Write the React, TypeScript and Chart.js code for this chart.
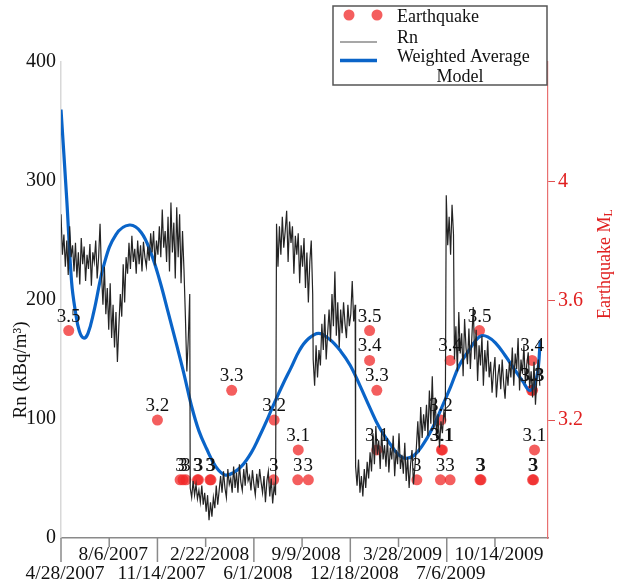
import React, { useEffect, useRef } from 'react';
import { Chart, registerables } from 'chart.js';

Chart.register(...registerables);

// ---- Axis ticks ----
const xTickDays = [0, 100, 200, 300, 400, 500, 600, 700, 800, 900];
const xTickLabels = ['4/28/2007', '8/6/2007', '11/14/2007', '2/22/2008', '6/1/2008', '9/9/2008', '12/18/2008', '3/28/2009', '7/6/2009', '10/14/2009'];
const rnTicks = [0, 100, 200, 300, 400];
const mlTicks = [3.2, 3.6, 4];

// ---- Rn series (kBq/m3), sampled every 3 days, in segments (days since 4/28/2007) ----
const rnStep = 3;
const rnSegStarts = [0, 268, 447, 523, 611, 799, 816];
const rnSegA = [
  272, 238, 255,
  228, 250, 221, 262, 236, 246, 224,
  248, 219, 240, 213, 252, 230, 245, 216, 238,
  226, 247, 212, 240, 232, 250, 218, 236, 264,
  222, 196, 228, 188, 210,
  175, 214, 168, 196, 160,
  190, 148, 178,
  205, 186, 230, 198, 236, 222,
  248, 226, 254, 232, 243, 222, 250,
  230, 246, 224, 249, 236, 228, 245,
  233, 256, 240, 258, 229, 250, 238,
  262, 236, 276, 244, 258, 232, 270,
  224, 282, 240, 265, 218, 278, 236,
  272, 214, 258, 226,
  186, 140, 168, 205,
];
const rnSegB = [
  42, 34, 48, 36, 45, 33, 40,
  30, 44, 28, 38,
  22, 36, 15, 30, 18, 34, 25,
  44, 28, 40,
  52, 38, 56, 42, 34, 58, 45, 50, 38,
  60, 42, 55, 38, 62, 47, 40, 58, 44, 63, 48, 52,
  40, 57, 45, 36, 54, 42, 58, 47,
  38, 52, 30, 48, 56, 35, 50, 29, 44, 36,
];
const rnSegC = [
  264, 228, 262, 238, 270, 244,
  258, 275, 232, 266, 248, 262, 222,
  254, 238, 256, 214, 246, 228, 252,
  210, 240, 198, 232, 250, 205,
];
const rnSegD = [
  150, 128, 162, 135, 158,
  145, 180, 158, 188, 150, 172, 192,
  165, 205, 178, 224, 170, 198, 160,
  192, 172, 198, 180, 168, 196, 178,
  188, 216, 182, 196,
];
const rnSegE = [
  60, 44, 66, 38, 52, 35, 58, 42, 64, 50,
  72, 56, 88, 62, 94, 70, 82, 58, 90, 66, 78,
  60, 84, 55, 76, 66, 86, 52, 74, 62, 88, 58, 70, 54, 80,
  48, 68, 42, 62, 74, 45, 60,
  76, 98, 72, 110, 84, 104, 90,
  112, 86, 124, 96, 136, 92, 118,
  84, 104, 76, 98, 88, 106, 100,
];
const rnSegF = [288, 246, 270, 238, 280, 255];
const rnSegG = [
  150, 178, 140, 190, 155, 172, 136, 184, 160, 146, 176,
  142, 168, 194, 150, 175, 132, 162, 145, 170, 128, 158, 140, 166, 135,
  148, 122, 140, 152, 118, 136, 146, 125, 150, 130, 117, 142, 128, 148,
  135, 160, 128, 155, 142, 168, 124, 150, 138, 162, 130, 146, 156, 126,
  140, 118, 148, 112, 135, 150, 128,
];
const rnSegments = [rnSegA, rnSegB, rnSegC, rnSegD, rnSegE, rnSegF, rnSegG];

// ---- Weighted average model ----
const modelDays = [0, 12, 22, 30, 38, 47, 56, 68, 90, 114, 142, 166, 187, 205, 222, 240, 255, 270, 286, 302, 321, 340, 358, 376, 395, 410, 426, 443, 460, 477, 495, 512, 534, 557, 580, 600, 620, 640, 660, 686, 700, 713, 731, 750, 770, 790, 808, 826, 845, 860, 872, 885, 901, 920, 940, 957, 973, 987, 994];
const modelValues = [360, 284, 215, 190, 174, 168, 172, 190, 231, 255, 263, 257, 239, 216, 190, 162, 138, 112, 90, 75, 60, 53, 55, 61, 72, 84, 98, 114, 129, 143, 158, 167, 172, 167, 157, 145, 128, 110, 93, 77, 70, 67, 69, 78, 92, 110, 127, 145, 157, 166, 170, 169, 164, 154, 142, 132, 124, 136, 166];

// ---- Earthquakes (day, local magnitude) ----
const eqDays = [16, 200, 247, 253, 259, 283, 285, 309, 311, 354, 442, 441, 492, 491, 513, 640, 640, 655, 655, 738, 788, 789, 791, 787, 807, 807, 868, 869, 871, 977, 976, 978, 982, 978, 980];
const eqMags = [3.5, 3.2, 3, 3, 3, 3, 3, 3, 3, 3.3, 3.2, 3, 3.1, 3, 3, 3.5, 3.4, 3.3, 3.1, 3, 3.2, 3.1, 3.1, 3, 3.4, 3, 3.5, 3, 3, 3.4, 3.3, 3.3, 3.1, 3, 3];

const FONT = "'Liberation Serif', 'Times New Roman', serif";
const RED_PT = 'rgba(240, 40, 40, 0.75)';
const BLUE = '#0a64c8';

const eqLabel = (m: number) => (m === 3 ? '3' : m.toFixed(1));

const overlayPlugin = {
  id: 'overlay',
  afterDatasetsDraw(chart: any) {
    const ctx = chart.ctx;
    const meta = chart.getDatasetMeta(2);
    ctx.save();
    ctx.font = `19px ${FONT}`;
    ctx.fillStyle = '#111';
    ctx.textAlign = 'center';
    ctx.textBaseline = 'alphabetic';
    meta.data.forEach((el: any, i: number) => {
      ctx.fillText(eqLabel(eqMags[i]), el.x, el.y - 9);
    });
    ctx.restore();
  },
  afterDraw(chart: any) {
    const ctx = chart.ctx;
    const xs = chart.scales.x;
    const bottom = chart.chartArea.bottom;
    ctx.save();
    // x tick marks (alternating lengths)
    ctx.strokeStyle = '#8a8a8a';
    ctx.lineWidth = 1.5;
    xTickDays.forEach((d, k) => {
      const px = xs.getPixelForValue(d);
      ctx.beginPath();
      ctx.moveTo(px, bottom);
      ctx.lineTo(px, bottom + (k % 2 === 0 ? 24 : 9));
      ctx.stroke();
    });

    // left title
    ctx.save();
    ctx.translate(21, 370);
    ctx.rotate(-Math.PI / 2);
    ctx.font = `19px ${FONT}`;
    ctx.fillStyle = '#111';
    ctx.textAlign = 'center';
    ctx.textBaseline = 'middle';
    ctx.fillText('Rn (kBq/m³)', 0, 0);
    ctx.restore();

    // right title with subscript
    ctx.save();
    ctx.translate(605, 264);
    ctx.rotate(-Math.PI / 2);
    ctx.fillStyle = '#e02020';
    ctx.textBaseline = 'middle';
    ctx.textAlign = 'left';
    ctx.font = `18px ${FONT}`;
    const w1 = ctx.measureText('Earthquake M').width;
    ctx.font = `12px ${FONT}`;
    const w2 = ctx.measureText('L').width;
    const sx = -(w1 + w2) / 2;
    ctx.font = `18px ${FONT}`;
    ctx.fillText('Earthquake M', sx, 0);
    ctx.font = `12px ${FONT}`;
    ctx.fillText('L', sx + w1, 4);
    ctx.restore();

    // legend
    ctx.fillStyle = '#ffffff';
    ctx.fillRect(333, 6, 214, 79);
    ctx.strokeStyle = '#555';
    ctx.lineWidth = 1.5;
    ctx.strokeRect(333, 6, 214, 79);
    ctx.fillStyle = RED_PT;
    [349, 377].forEach((cx) => {
      ctx.beginPath();
      ctx.arc(cx, 15, 5.5, 0, Math.PI * 2);
      ctx.fill();
    });
    ctx.strokeStyle = '#8a8a8a';
    ctx.lineWidth = 1.5;
    ctx.beginPath();
    ctx.moveTo(340, 42);
    ctx.lineTo(377, 42);
    ctx.stroke();
    ctx.strokeStyle = BLUE;
    ctx.lineWidth = 3.5;
    ctx.beginPath();
    ctx.moveTo(340, 60.5);
    ctx.lineTo(377, 60.5);
    ctx.stroke();
    ctx.fillStyle = '#111';
    ctx.font = `18px ${FONT}`;
    ctx.textAlign = 'left';
    ctx.textBaseline = 'alphabetic';
    ctx.fillText('Earthquake', 397, 21.5);
    ctx.fillText('Rn', 397, 43);
    ctx.fillText('Weighted Average', 397, 61.5);
    ctx.textAlign = 'center';
    ctx.fillText('Model', 460, 81.5);
    ctx.restore();
  },
};

export default function App() {
  const ref = useRef<HTMLCanvasElement | null>(null);
  useEffect(() => {
    if (!ref.current) return;
    const rnData: { x: number; y: number }[] = [];
    rnSegments.forEach((seg, s) => {
      seg.forEach((v, i) => rnData.push({ x: rnSegStarts[s] + i * rnStep, y: v }));
    });
    const modelData = modelDays.map((d, i) => ({ x: d, y: modelValues[i] }));
    const eqData = eqDays.map((d, i) => ({ x: d, y: eqMags[i] }));

    const chart = new Chart(ref.current, {
      type: 'line',
      data: {
        datasets: [
          {
            label: 'Rn',
            data: rnData,
            borderColor: '#242424',
            borderWidth: 1.2,
            pointRadius: 0,
            tension: 0,
            yAxisID: 'y',
          },
          {
            label: 'Weighted Average Model',
            data: modelData,
            borderColor: BLUE,
            borderWidth: 3.2,
            pointRadius: 0,
            tension: 0.4,
            yAxisID: 'y',
          },
          {
            label: 'Earthquake',
            data: eqData,
            showLine: false,
            pointRadius: 5.5,
            pointBackgroundColor: RED_PT,
            pointBorderWidth: 0,
            borderColor: 'transparent',
            yAxisID: 'y1',
          },
        ],
      },
      options: {
        animation: false,
        responsive: false,
        devicePixelRatio: 1,
        layout: { padding: { top: 62, left: 0, right: 0, bottom: 0 } },
        plugins: { legend: { display: false }, tooltip: { enabled: false } },
        scales: {
          x: {
            type: 'linear',
            position: 'bottom',
            min: 0,
            max: 1010,
            afterBuildTicks: (s: any) => {
              s.ticks = xTickDays.map((v) => ({ value: v }));
            },
            afterFit: (s: any) => {
              s.height = 47;
            },
            grid: { display: true, drawOnChartArea: false, drawTicks: false },
            border: { display: true, color: '#8a8a8a', width: 1.5 },
            ticks: {
              autoSkip: false,
              maxRotation: 0,
              padding: 7,
              labelOffset: 4,
              color: '#111',
              font: { family: FONT, size: 19.5, lineHeight: 1.0 },
              callback: (value: any) => {
                const k = xTickDays.indexOf(Number(value));
                if (k < 0) return '';
                return k % 2 === 0 ? ['', xTickLabels[k]] : [xTickLabels[k], ''];
              },
            },
          },
          y: {
            type: 'linear',
            position: 'left',
            min: 0,
            max: 400,
            afterBuildTicks: (s: any) => {
              s.ticks = rnTicks.map((v) => ({ value: v }));
            },
            afterFit: (s: any) => {
              s.width = 61;
            },
            grid: { display: true, drawOnChartArea: false, drawTicks: false },
            border: { display: true, color: '#d8d8d8', width: 1.5 },
            ticks: {
              padding: 5,
              color: '#111',
              font: { family: FONT, size: 20 },
              callback: (v: any) => String(v),
            },
          },
          y1: {
            type: 'linear',
            position: 'right',
            min: 2.805,
            max: 4.4,
            afterBuildTicks: (s: any) => {
              s.ticks = mlTicks.map((v) => ({ value: v }));
            },
            afterFit: (s: any) => {
              s.width = 72;
            },
            grid: { display: true, drawOnChartArea: false, drawTicks: true, tickLength: 7, color: '#e05050' },
            border: { display: true, color: '#e87070', width: 1.2 },
            ticks: {
              padding: 3,
              color: '#e02020',
              font: { family: FONT, size: 20 },
              callback: (v: any) => String(Math.round(Number(v) * 10) / 10),
            },
          },
        },
      },
      plugins: [overlayPlugin],
    } as any);
    return () => chart.destroy();
  }, []);

  return (
    <div style={{ position: 'absolute', left: 0, top: 0, width: 620, height: 585, background: '#fff' }}>
      <canvas ref={ref} width={620} height={585} style={{ display: 'block' }} />
    </div>
  );
}
